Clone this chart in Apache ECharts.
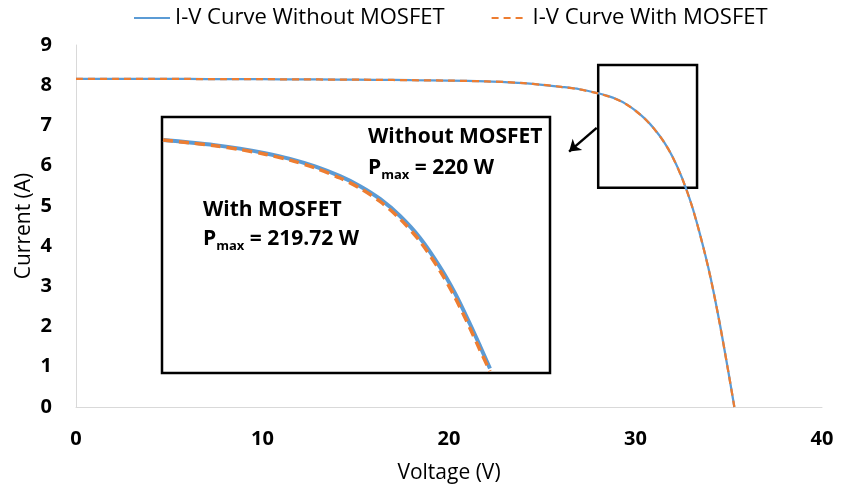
<!DOCTYPE html>
<html><head><meta charset="utf-8">
<script src="https://cdn.jsdelivr.net/npm/echarts@6/dist/echarts.min.js"></script>
<style>html,body{margin:0;padding:0;background:#fff}#c{width:842px;height:489px}</style>
</head><body><div id="c"></div>
<script>
// Main I-V curve
const voltage        = [0, 2, 4, 6, 8, 10, 12, 14, 16, 18, 20, 22, 23, 24, 25, 26, 27, 28, 28.5, 29, 29.5, 30, 30.5, 31, 31.5, 32, 32.5, 33, 33.5, 34, 34.5, 35, 35.3];
const currentWithout = [8.16, 8.16, 8.155, 8.155, 8.15, 8.15, 8.145, 8.14, 8.135, 8.125, 8.115, 8.095, 8.08, 8.05, 8.01, 7.96, 7.90, 7.80, 7.735, 7.65, 7.53, 7.37, 7.17, 6.92, 6.61, 6.21, 5.69, 5.04, 4.22, 3.27, 2.12, 0.82, 0];
const currentWith    = [8.16, 8.16, 8.155, 8.155, 8.15, 8.15, 8.145, 8.14, 8.135, 8.125, 8.115, 8.095, 8.08, 8.05, 8.01, 7.96, 7.895, 7.795, 7.73, 7.645, 7.525, 7.365, 7.165, 6.915, 6.605, 6.205, 5.685, 5.035, 4.215, 3.265, 2.115, 0.815, 0];

// Inset (magnified view of the boxed region)
const insetVoltage        = [28.014, 28.382, 28.724, 29.065, 29.407, 29.748, 30.090, 30.431, 30.705, 30.978, 31.251, 31.524, 31.797, 32.002, 32.207, 32.344, 32.480];
const insetCurrentWithout = [8.226, 8.197, 8.165, 8.123, 8.069, 8.001, 7.911, 7.795, 7.676, 7.524, 7.321, 7.059, 6.713, 6.401, 6.034, 5.772, 5.504];
const insetCurrentWith    = [8.226, 8.192, 8.157, 8.113, 8.057, 7.986, 7.893, 7.773, 7.651, 7.494, 7.286, 7.019, 6.668, 6.351, 5.984, 5.722, 5.470];

// Zoom box region and arrow (data coordinates)
const zoomBoxVoltage = [28, 33.3];
const zoomBoxCurrent = [5.45, 8.5];
const arrowFrom = [27.92, 6.94];
const arrowTo   = [26.44, 6.35];

// Axis ticks
const xTicks = [0, 10, 20, 30, 40];
const yTicks = [0, 1, 2, 3, 4, 5, 6, 7, 8, 9];

const nameWithout = 'I-V Curve Without MOSFET';
const nameWith = 'I-V Curve With MOSFET';
const BLUE = '#5B9BD5', ORANGE = '#ED7D31';
const FONT = 'Open Sans';

const pairs = (xs, ys) => xs.map((x, i) => [x, ys[i]]);

const richP = {
  p: {fontFamily: FONT, fontSize: 21, fontWeight: 'bold', lineHeight: 26, verticalAlign: 'middle'},
  s: {fontFamily: FONT, fontSize: 13, fontWeight: 'bold', lineHeight: 26, verticalAlign: 'bottom'}
};

const chart = echarts.init(document.getElementById('c'));
chart.setOption({
  animation: false,
  legend: {
    top: 2, left: 128, itemWidth: 36, itemGap: 46, itemHeight: 12,
    itemStyle: {opacity: 0},
    textStyle: {fontFamily: FONT, fontSize: 22, color: '#000'},
    data: [nameWithout, nameWith]
  },
  grid: [
    {left: 76, right: 20, top: 45, bottom: 82},
    {left: 162, top: 117, width: 388, height: 256, show: true, borderColor: '#000', borderWidth: 2.5, backgroundColor: '#fff'}
  ],
  xAxis: [
    {gridIndex: 0, type: 'value', min: xTicks[0], max: xTicks[xTicks.length - 1], interval: 10,
     name: 'Voltage (V)', nameLocation: 'middle', nameGap: 56,
     nameTextStyle: {fontFamily: FONT, fontSize: 21, color: '#000'},
     axisLine: {lineStyle: {color: '#D9D9D9', width: 1}}, axisTick: {show: false}, splitLine: {show: false},
     axisLabel: {fontFamily: FONT, fontSize: 20, fontWeight: 'bold', color: '#000', margin: 22}},
    {gridIndex: 1, type: 'value', min: zoomBoxVoltage[0], max: zoomBoxVoltage[1], show: false}
  ],
  yAxis: [
    {gridIndex: 0, type: 'value', min: yTicks[0], max: yTicks[yTicks.length - 1], interval: 1,
     name: 'Current (A)', nameLocation: 'middle', nameGap: 41, nameMoveOverlap: false,
     nameTextStyle: {fontFamily: FONT, fontSize: 21, color: '#000'},
     axisLine: {show: true, lineStyle: {color: '#D9D9D9', width: 1}}, axisTick: {show: false}, splitLine: {show: false},
     axisLabel: {fontFamily: FONT, fontSize: 20, fontWeight: 'bold', color: '#000', margin: 24}},
    {gridIndex: 1, type: 'value', min: zoomBoxCurrent[0], max: zoomBoxCurrent[1], show: false}
  ],
  graphic: [
    {type: 'text', left: 368, top: 127, z: 100,
     style: {text: 'Without MOSFET', fontFamily: FONT, fontSize: 21, fontWeight: 'bold', fill: '#000'}},
    {type: 'text', left: 368, top: 158, z: 100,
     style: {text: '{p|P}{s|max}{p| = 220 W}', fill: '#000', rich: richP}},
    {type: 'text', left: 203, top: 200, z: 100,
     style: {text: 'With MOSFET', fontFamily: FONT, fontSize: 21, fontWeight: 'bold', fill: '#000'}},
    {type: 'text', left: 203, top: 229, z: 100,
     style: {text: '{p|P}{s|max}{p| = 219.72 W}', fill: '#000', rich: richP}}
  ],
  series: [
    {name: nameWithout, type: 'line', xAxisIndex: 0, yAxisIndex: 0, data: pairs(voltage, currentWithout),
     showSymbol: false, symbol: 'none', smooth: 0.3,
     lineStyle: {color: BLUE, width: 2.25}, itemStyle: {color: BLUE}, z: 2,
     markArea: {silent: true, itemStyle: {color: 'rgba(0,0,0,0)', borderColor: '#000', borderWidth: 2.5},
       data: [[{coord: [zoomBoxVoltage[0], zoomBoxCurrent[1]]}, {coord: [zoomBoxVoltage[1], zoomBoxCurrent[0]]}]]},
     markLine: {silent: true, symbol: ['none', 'arrow'], symbolSize: 11, label: {show: false},
       lineStyle: {color: '#000', width: 2.5, type: 'solid'},
       data: [[{coord: arrowFrom}, {coord: arrowTo}]]}},
    {name: nameWith, type: 'line', xAxisIndex: 0, yAxisIndex: 0, data: pairs(voltage, currentWith),
     showSymbol: false, symbol: 'none', smooth: 0.3,
     lineStyle: {color: ORANGE, width: 2.25, type: [7, 5]}, itemStyle: {color: ORANGE}, z: 3},
    {name: nameWithout, type: 'line', xAxisIndex: 1, yAxisIndex: 1, data: pairs(insetVoltage, insetCurrentWithout),
     showSymbol: false, symbol: 'none', smooth: 0.3, z: 4,
     lineStyle: {color: BLUE, width: 4}, itemStyle: {color: BLUE}},
    {name: nameWith, type: 'line', xAxisIndex: 1, yAxisIndex: 1, data: pairs(insetVoltage, insetCurrentWith),
     showSymbol: false, symbol: 'none', smooth: 0.3, z: 5,
     lineStyle: {color: ORANGE, width: 3.5, type: [10, 6]}, itemStyle: {color: ORANGE}}
  ]
});
</script>
</body></html>
